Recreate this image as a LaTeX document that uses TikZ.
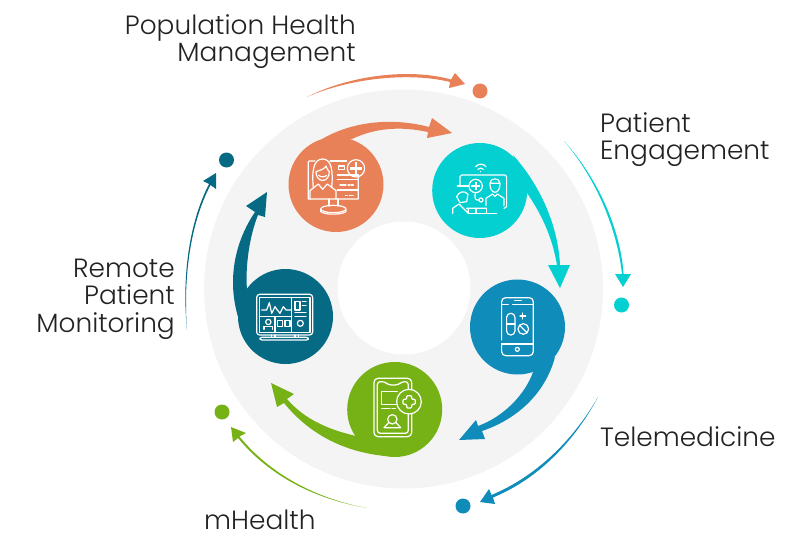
\documentclass[tikz,border=0pt]{standalone}
\usepackage{fontspec}
\setmainfont{Poppins}[UprightFont=* Light]
\usetikzlibrary{positioning}
\definecolor{popOrange}{HTML}{E98158}
\definecolor{engTeal}{HTML}{04CFD1}
\definecolor{telBlue}{HTML}{0F8CBA}
\definecolor{mhGreen}{HTML}{76B216}
\definecolor{remDark}{HTML}{066A84}
\definecolor{ringGray}{HTML}{F4F4F4}
\definecolor{labelInk}{HTML}{222222}
\tikzset{
    hub/.style={circle, inner sep=0pt, minimum size=95pt},
    dot/.style={circle, inner sep=0pt, minimum size=15pt},
    label/.style={text=labelInk, font=\fontsize{26.4}{27.3}\selectfont, inner sep=0pt},
    icon/.style={draw=white, line width=1.2pt, line cap=round, line join=round},
    zoomed/.style 2 args={shift={(#1,#2)}, x=0.3333pt, y=-0.3333pt}
}
\begin{document}
\begin{tikzpicture}[x=1pt, y=-1pt]
    \useasboundingbox (0,0) rectangle (806,543);
    \node[circle, fill=ringGray, inner sep=0pt, minimum size=399pt] (ring) at (403.5,289) {};
    \node[circle, fill=white, inner sep=0pt, minimum size=133pt] (well) at (404,288) {};
    % big swooshes
    \fill[popOrange] (322,139) .. controls (355,120) and (395,118) .. (429,127) -- (432,118) -- (452,133) -- (427,138) -- (428,132) .. controls (400,126) and (375,128) .. (352,139) -- cycle;
    \fill[engTeal] (513,155) .. controls (540,185) and (558,225) .. (560,265) -- (570,265) -- (560,288) -- (548,265) -- (557,265) .. controls (552,235) and (540,212) .. (527,193) -- cycle;
    \fill[telBlue] (555,357) .. controls (545,395) and (515,420) .. (482,431) -- (485,439) -- (459,440) -- (476,420) -- (478,426) .. controls (503,417) and (525,395) .. (533,372) -- cycle;
    \fill[mhGreen] (385,456) .. controls (345,452) and (310,435) .. (284,403) -- (277,407) -- (271,383) -- (294,394) -- (287,399) .. controls (305,420) and (330,430) .. (356,436) -- cycle;
    \fill[remDark] (255,214) -- (265,217) -- (267,192) -- (246,206) -- (255,212) .. controls (236,240) and (225,280) .. (240,323) -- (250,300) -- (247,290) .. controls (245,265) and (250,235) .. (258,215) -- cycle;
    \foreach \name/\x/\y/\col in {popHub/336/184.5/popOrange, engHub/479.7/190.5/engTeal, telHub/517.5/327/telBlue, mhHub/394.7/409.5/mhGreen, remHub/285.5/316.5/remDark}
        \node[hub, fill=\col] (\name) at (\x,\y) {};
    \foreach \name/\x/\y/\col in {popDot/480/91/popOrange, engDot/621.5/305/engTeal, telDot/463/506/telBlue, mhDot/222/412/mhGreen, remDot/226.5/160/remDark}
        \node[dot, fill=\col] (\name) at (\x,\y) {};
    % outer thin arrows
    \fill[popOrange] (307,97) .. controls (350,75) and (410,68) .. (451,79.5) -- (455,73) -- (465,84) -- (449,88) -- (450,82) .. controls (410,72) and (350,78) .. cycle;
    \fill[engTeal] (564,141) .. controls (595,175) and (620,225) .. (623.6,274) -- (631,274) -- (623,287) -- (615,274) -- (622,274) .. controls (616.5,225) and (594,176) .. cycle;
    \fill[telBlue] (598,397) .. controls (575,440) and (540,478) .. (493,497.5) -- (495,504) -- (480,502) -- (489,489) -- (491.5,495) .. controls (537,476) and (573.5,439.5) .. cycle;
    \fill[mhGreen] (367,508) .. controls (315,498.5) and (269,473) .. (239.5,436.5) -- (246,433) -- (231,427) -- (233,442) -- (238,438) .. controls (269,475.5) and (314,499) .. cycle;
    \fill[remDark] (187,330) .. controls (183.3,280) and (189.5,225) .. (210.5,185) -- (216,189) -- (216,173) -- (203,181) -- (209,184) .. controls (188,225) and (182,280) .. cycle;
    % icon of the orange hub
    \begin{scope}[zoomed={280}{100}]
        \draw[icon] (105,183) -- (88,183) -- (85,186) -- (85,297) -- (235,297) -- (235,225);
        \draw[icon] (150,183) -- (200,183);
        \draw[icon] (100,262) .. controls (95,215) and (100,177) .. (128,177) .. controls (155,177) and (160,215) .. (155,262);
        \draw[icon] (108,215) .. controls (125,210) and (135,205) .. (138,198) .. controls (142,210) and (146,212) .. (148,215) .. controls (148,250) and (108,250) .. (108,215);
        \draw[icon] (116,226) .. controls (122,232) and (134,232) .. (140,226);
        \draw[icon] (90,297) -- (90,272) -- (115,252) -- (128,268) -- (142,252) -- (168,272) -- (168,297);
        \draw[icon] (228,205) circle [radius=26];
        \draw[icon, line width=2.6pt, line cap=butt] (210,205) -- (246,205) (228,187) -- (228,223);
        \draw[icon] (175,198) rectangle (193,208);
        \draw[icon] (172,225) -- (235,225) (172,238) -- (235,238) (172,270) -- (235,270);
        \draw[icon] (180,255) -- (198,255) (204,255) -- (210,255) (214,255) -- (220,255) (196,287) -- (202,287) (208,287) -- (220,287);
        \draw[icon] (147,297) -- (147,318) (174,297) -- (174,318);
        \draw[icon] (160,327) ellipse [x radius=38, y radius=11];
        \draw[icon] (122,329) -- (122,335) .. controls (135,345) and (185,345) .. (198,335) -- (198,329);
    \end{scope}
    % icon of the teal hub
    \begin{scope}[zoomed={280}{100}]
        \draw[icon] (587,200) .. controls (595,190) and (610,190) .. (618,200);
        \draw[icon] (594,208) .. controls (598,203) and (606,203) .. (610,208);
        \draw[icon] (602,214) -- (602,215);
        \draw[icon] (540,256) -- (540,230) -- (545,225) -- (675,225) -- (680,230) -- (680,320) -- (672,325) (620,325) -- (560,325);
        \draw[icon] (588,325) -- (588,340) (565,340) -- (650,340) (620,340) -- (620,325);
        \draw[icon] (587,258) circle [radius=20];
        \draw[icon, line width=2.2pt, line cap=butt] (574,258) -- (600,258) (587,245) -- (587,271);
        \draw[icon] (587,278) .. controls (580,298) and (590,302) .. (597,300);
        \draw[icon] (603,300) circle [radius=6];
        \draw[icon] (630,250) .. controls (630,232) and (660,232) .. (660,250) -- (630,250);
        \draw[icon] (630,252) .. controls (630,285) and (660,285) .. (660,252);
        \draw[icon] (618,317) -- (618,295) -- (638,282) -- (645,290) -- (652,282) -- (672,295) -- (672,317);
        \draw[icon] (532,258) -- (565,258);
        \draw[icon] (530,290) .. controls (535,275) and (555,270) .. (564,283) -- (560,305) -- (540,308) -- (530,290);
        \draw[icon] (518,340) -- (518,325) -- (537,312) -- (565,340) -- (565,328);
    \end{scope}
    % icon of the blue hub
    \begin{scope}[zoomed={220}{260}]
        \draw[icon, rounded corners=4pt] (845,240) -- (845,113) -- (940,113) -- (940,287) -- (845,287) -- (845,250);
        \draw[icon] (845,133) -- (865,133) (878,133) -- (940,133) (845,252) -- (940,252);
        \draw[icon] (884,122) -- (904,122);
        \draw[icon] (892,268) circle [radius=6];
        \draw[icon, rounded corners=4pt] (860,190) -- (860,160) -- (885,160) -- (885,225) -- (860,225) -- cycle;
        \draw[icon] (860,192) -- (885,192);
        \draw[icon] (900,168) -- (917,168) (908.5,159) -- (908.5,177);
        \draw[icon] (910,207) circle [radius=16];
        \draw[icon] (899,196) -- (921,218);
    \end{scope}
    % icon of the green hub
    \begin{scope}[zoomed={220}{260}]
        \draw[icon, rounded corners=4pt] (575,390) -- (575,355) -- (462,355) -- (462,530) -- (575,530) -- (575,462);
        \draw[icon, rounded corners=3pt] (565,388) -- (565,365) -- (545,365) -- (535,375) -- (505,375) -- (495,365) -- (472,365) -- (472,520) -- (565,520) -- (565,462);
        \draw[icon] (532,395) -- (485,395) -- (485,433) -- (530,433);
        \draw[icon] (485,445) -- (510,445) (516,445) -- (526,445);
        \draw[icon] (567,425) circle [radius=37];
        \draw[icon, rounded corners=1pt] (560,407) -- (575,407) -- (575,418) -- (586,418) -- (586,433) -- (575,433) -- (575,444) -- (560,444) -- (560,433) -- (549,433) -- (549,418) -- (560,418) -- cycle;
        \draw[icon] (517,478) circle [radius=14];
        \draw[icon] (506,488) -- (492,503) -- (542,503) -- (528,488);
    \end{scope}
    % icon of the dark hub
    \begin{scope}[zoomed={220}{260}]
        \draw[icon, rounded corners=3pt] (110,103) rectangle (278,225);
        \draw[icon] (118,112) rectangle (270,217);
        \draw[icon] (215,112) -- (215,217) (118,170) -- (215,170) (165,170) -- (165,217);
        \draw[icon] (125,150) -- (140,150) -- (148,128) -- (155,160) -- (165,140) -- (172,150) -- (180,160) -- (190,140) -- (198,150) -- (212,150);
        \draw[icon] (225,125) rectangle (240,150);
        \draw[icon] (247,125) -- (258,125) (247,137) -- (258,137) (225,158) -- (258,158) (225,170) -- (258,170);
        \draw[icon] (241,190) circle [radius=9];
        \draw[icon] (145,186) circle [radius=8];
        \draw[icon] (132,208) -- (132,200) -- (158,200) -- (158,208);
        \draw[icon] (172,182) rectangle (188,200);
        \draw[icon] (195,182) rectangle (210,200);
        \draw[icon] (155,225) -- (155,232) (165,225) -- (165,232) (225,225) -- (225,232) (235,225) -- (235,232);
        \draw[icon, rounded corners=2pt] (120,232) rectangle (265,240);
    \end{scope}
    % labels
    \node[label, align=right, anchor=north east] (popLabel) at (356,14) {Population Health\\Management};
    \node[label, align=left, anchor=north west] (engLabel) at (600,112) {Patient\\Engagement};
    \node[label, anchor=north west] (telLabel) at (600,426) {Telemedicine};
    \node[label, anchor=north west] (mhLabel) at (204,510) {mHealth};
    \node[label, align=right, anchor=north east] (remLabel) at (175,259) {Remote\\Patient\\Monitoring};
\end{tikzpicture}
\end{document}
